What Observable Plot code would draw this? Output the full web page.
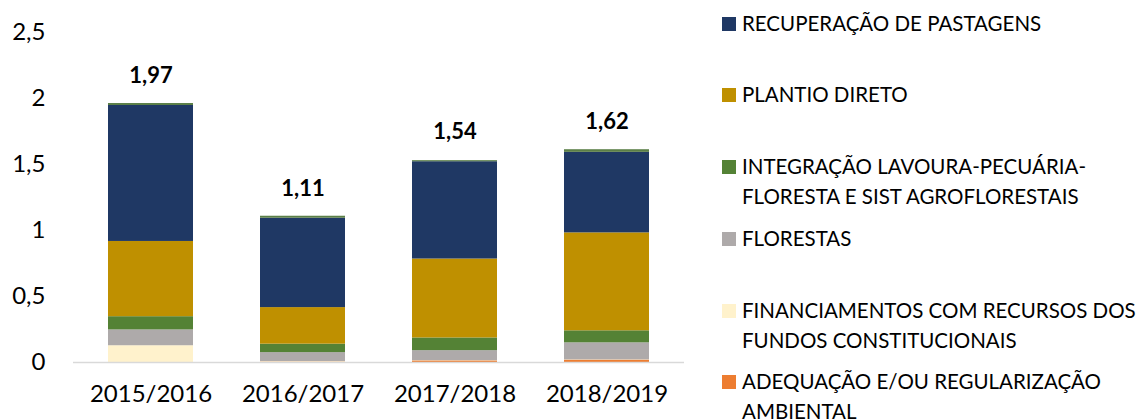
<!DOCTYPE html>
<html>
<head>
<meta charset="utf-8">
<script src="https://cdn.jsdelivr.net/npm/d3@7"></script>
<script src="https://cdn.jsdelivr.net/npm/@observablehq/plot@0.6"></script>
<style>
  html, body { margin: 0; padding: 0; background: #fff; }
  #wrap { position: relative; width: 1136px; height: 419px; overflow: hidden; font-family: Lato, "Open Sans", sans-serif; color: #000; }
  #chart { position: absolute; left: 0; top: 0; }
  .leg { position: absolute; left: 722px; font-size: 20.5px; line-height: 29.5px; white-space: nowrap; }
  .leg .sw { position: absolute; left: 0; top: 8px; width: 14px; height: 14px; }
  .leg .tx { position: absolute; left: 20px; top: 0; }
</style>
</head>
<body>
<div id="wrap"><div id="chart"></div></div>
<script>
// ---- data ----
const years = ["2015/2016", "2016/2017", "2017/2018", "2018/2019"];
const seriesNames = [
  "ADEQUAÇÃO E/OU REGULARIZAÇÃO AMBIENTAL",
  "FINANCIAMENTOS COM RECURSOS DOS FUNDOS CONSTITUCIONAIS",
  "FLORESTAS",
  "INTEGRAÇÃO LAVOURA-PECUÁRIA-FLORESTA E SIST AGROFLORESTAIS",
  "PLANTIO DIRETO",
  "RECUPERAÇÃO DE PASTAGENS",
  "OUTROS"
];
const adequacao      = [0.000, 0.003, 0.012, 0.018];
const financiamentos = [0.127, 0.004, 0.002, 0.002];
const florestas      = [0.120, 0.068, 0.076, 0.129];
const integracao     = [0.100, 0.064, 0.096, 0.091];
const plantio        = [0.570, 0.277, 0.598, 0.742];
const recuperacao    = [1.030, 0.677, 0.737, 0.610];
const outros         = [0.015, 0.015, 0.008, 0.020];
const totals = [1.97, 1.11, 1.54, 1.62];
const seriesColors = ["#ed7d31", "#fff2cc", "#aeaaaa", "#548235", "#bf9000", "#1f3864", "#5b7f47"];
const yTicks = [0, 0.5, 1, 1.5, 2, 2.5];
// legend (top to bottom) with explicit line breaks
const legendLines = [
  ["RECUPERAÇÃO DE PASTAGENS"],
  ["PLANTIO DIRETO"],
  ["INTEGRAÇÃO LAVOURA-PECUÁRIA-", "FLORESTA E SIST AGROFLORESTAIS"],
  ["FLORESTAS"],
  ["FINANCIAMENTOS COM RECURSOS DOS", "FUNDOS CONSTITUCIONAIS"],
  ["ADEQUAÇÃO E/OU REGULARIZAÇÃO", "AMBIENTAL"]
];
const legendSeries = [5, 4, 3, 2, 1, 0];
const legendTops = [9, 80, 152, 224, 296, 367];

// ---- build table ----
const seriesValues = [adequacao, financiamentos, florestas, integracao, plantio, recuperacao, outros];
const rows = [];
seriesNames.forEach((s, si) => years.forEach((y, yi) => rows.push({year: y, series: s, value: seriesValues[si][yi]})));
const fmt = v => String(v).replace(".", ",");
const labels = years.map((y, i) => ({year: y, total: totals[i]}));

const chart = Plot.plot({
  width: 720,
  height: 419,
  marginLeft: 73,
  marginRight: 36,
  marginTop: 32,
  marginBottom: 57,
  style: {fontFamily: "Lato, 'Open Sans', sans-serif", fontSize: "24px", color: "#000", background: "#fff", overflow: "visible"},
  x: {domain: years, paddingInner: 0.444, paddingOuter: 0.222, label: null, tickSize: 0, tickPadding: 22},
  y: {domain: [0, 2.5], ticks: yTicks, tickFormat: fmt, label: null, tickSize: 0, tickPadding: 28},
  color: {domain: seriesNames, range: seriesColors},
  marks: [
    Plot.barY(rows, {x: "year", y: "value", fill: "series", order: seriesNames}),
    Plot.ruleY([0], {stroke: "#d9d9d9", strokeWidth: 1.5}),
    Plot.text(labels, {x: "year", y: "total", text: d => fmt(d.total), dy: -27, fontWeight: "bold", fontSize: 22, fill: "#000"})
  ]
});
document.getElementById("chart").appendChild(chart);

const wrap = document.getElementById("wrap");
legendLines.forEach((lines, i) => {
  const item = document.createElement("div");
  item.className = "leg";
  item.style.top = legendTops[i] + "px";
  const sw = document.createElement("div");
  sw.className = "sw";
  sw.style.background = seriesColors[legendSeries[i]];
  const tx = document.createElement("div");
  tx.className = "tx";
  tx.innerHTML = lines.join("<br>");
  item.appendChild(sw);
  item.appendChild(tx);
  wrap.appendChild(item);
});
</script>
</body>
</html>
